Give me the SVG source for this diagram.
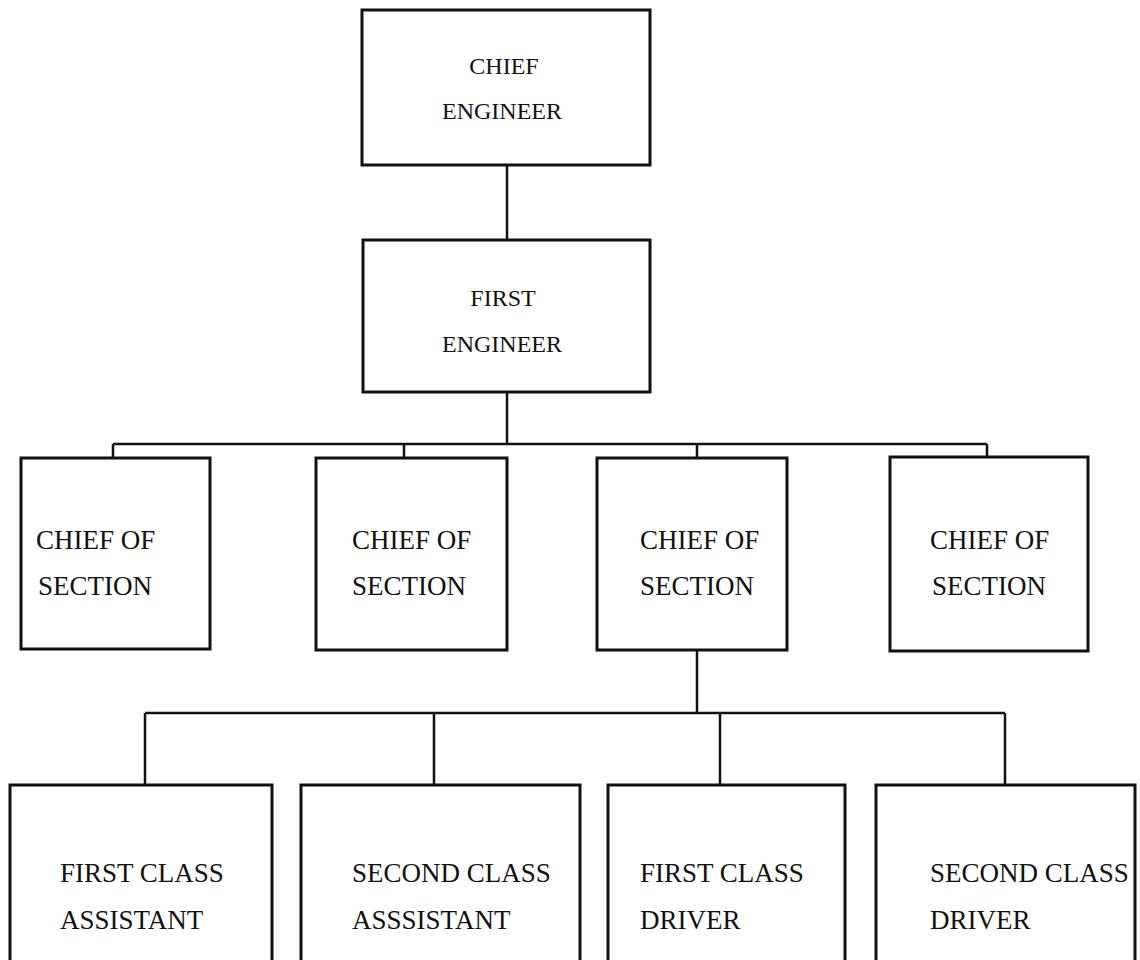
<svg xmlns="http://www.w3.org/2000/svg" width="1140" height="960" viewBox="0 0 1140 960">
<style>
.box{fill:#fff;stroke:#111;stroke-width:3}
.ln{fill:none;stroke:#111;stroke-width:2.5}
text{font-family:"Liberation Serif","Times New Roman",serif;font-size:27px;fill:#111}
.c{text-anchor:middle;font-size:24px}
</style>
<rect width="1140" height="960" fill="#fff"/>
<g id="connectors">
<path class="ln" d="M507 165 V240"/>
<path class="ln" d="M507 392 V444"/>
<path class="ln" d="M113 444 H987"/>
<path class="ln" d="M113 444 V458 M404 444 V458 M697 444 V458 M987 444 V458"/>
<path class="ln" d="M697 650 V713"/>
<path class="ln" d="M145 713 H1005"/>
<path class="ln" d="M145 713 V785 M434 713 V785 M720 713 V785 M1005 713 V785"/>
</g>
<g id="chief-engineer">
<rect class="box" x="362" y="10" width="288" height="155"/>
<text class="c" x="504" y="74">CHIEF</text>
<text class="c" x="502" y="119">ENGINEER</text>
</g>
<g id="first-engineer">
<rect class="box" x="363" y="240" width="287" height="152"/>
<text class="c" x="503" y="306">FIRST</text>
<text class="c" x="502" y="352">ENGINEER</text>
</g>
<g id="chief-of-section-1">
<rect class="box" x="21" y="458" width="189" height="191"/>
<text x="36" y="549">CHIEF OF</text>
<text x="38" y="595">SECTION</text>
</g>
<g id="chief-of-section-2">
<rect class="box" x="316" y="458" width="191" height="192"/>
<text x="352" y="549">CHIEF OF</text>
<text x="352" y="595">SECTION</text>
</g>
<g id="chief-of-section-3">
<rect class="box" x="597" y="458" width="190" height="192"/>
<text x="640" y="549">CHIEF OF</text>
<text x="640" y="595">SECTION</text>
</g>
<g id="chief-of-section-4">
<rect class="box" x="890" y="457" width="198" height="194"/>
<text x="930" y="549">CHIEF OF</text>
<text x="932" y="595">SECTION</text>
</g>
<g id="first-class-assistant">
<rect class="box" x="10" y="785" width="262" height="200"/>
<text x="60" y="882">FIRST CLASS</text>
<text x="60" y="929">ASSISTANT</text>
</g>
<g id="second-class-assistant">
<rect class="box" x="301" y="785" width="279" height="200"/>
<text x="352" y="882">SECOND CLASS</text>
<text x="352" y="929">ASSSISTANT</text>
</g>
<g id="first-class-driver">
<rect class="box" x="608" y="785" width="237" height="200"/>
<text x="640" y="882">FIRST CLASS</text>
<text x="640" y="929">DRIVER</text>
</g>
<g id="second-class-driver">
<rect class="box" x="876" y="785" width="259" height="200"/>
<text x="930" y="882">SECOND CLASS</text>
<text x="930" y="929">DRIVER</text>
</g>
</svg>
